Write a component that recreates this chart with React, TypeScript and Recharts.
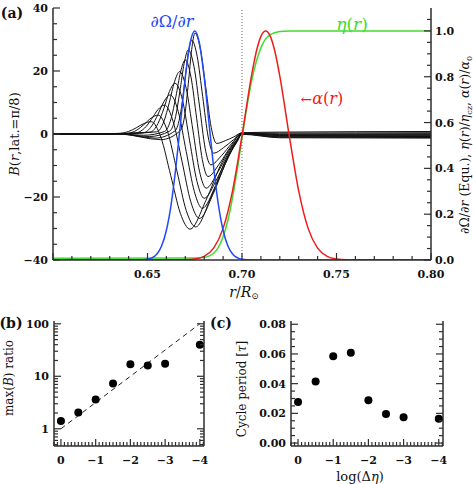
import React from "react"
import { LineChart, ComposedChart, Line, Scatter, XAxis, YAxis, ReferenceLine } from "recharts"

const FONT = "'DejaVu Serif', serif"
const INK = "#2e2e2e"
const BLUE = "#2448f2"
const GREEN = "#3fdc2e"
const RED = "#ee1c1c"

// (a) B(r, lat = pi/8), pairs of [r, B]
const bCurve0 = [[0.6, 0], [0.62, 0], [0.6344, 0.2], [0.64, 0.8], [0.644, 1.95], [0.648, 3.3], [0.652, 3.9], [0.6571, -1.1], [0.6623, -13.2], [0.6674, -25.2], [0.6725, -30.2], [0.6809, -21.1], [0.6893, -9.1], [0.6965, -2.4], [0.7, -0.1], [0.72, -1.2], [0.8, -1.3]]
const bCurve1 = [[0.6, 0], [0.62, 0], [0.6391, 0.2], [0.6444, 1.25], [0.6481, 3.0], [0.6519, 5.05], [0.6556, 6.0], [0.6606, 0.8], [0.6656, -11.8], [0.6705, -24.3], [0.6755, -29.5], [0.6832, -20.7], [0.6909, -8.9], [0.6975, -2.4], [0.7, 0.0], [0.72, -1.0], [0.8, -1.1]]
const bCurve2 = [[0.6, 0], [0.625, 0], [0.6436, 0.3], [0.6485, 1.9], [0.652, 4.6], [0.6555, 7.7], [0.659, 9.2], [0.6636, 3.9], [0.6683, -8.8], [0.6729, -21.5], [0.6775, -26.8], [0.6849, -18.8], [0.6922, -8.0], [0.6975, -2.2], [0.7, 0.1], [0.72, -0.9], [0.8, -0.9]]
const bCurve3 = [[0.6, 0], [0.625, 0], [0.6477, 0.4], [0.6523, 2.6], [0.6555, 6.2], [0.6588, 10.4], [0.662, 12.4], [0.6663, 7.1], [0.6705, -5.6], [0.6748, -18.3], [0.679, -23.6], [0.686, -16.5], [0.693, -7.1], [0.6975, -2.0], [0.7, 0.1], [0.72, -0.7], [0.8, -0.8]]
const bCurve4 = [[0.6, 0], [0.63, 0], [0.6514, 0.6], [0.6556, 3.4], [0.6586, 8.0], [0.6616, 13.5], [0.6646, 16.1], [0.6685, 10.8], [0.6723, -2.2], [0.6762, -15.1], [0.68, -20.4], [0.6867, -14.3], [0.6933, -6.1], [0.6975, -1.8], [0.7, 0.2], [0.72, -0.5], [0.8, -0.6]]
const bCurve5 = [[0.6, 0], [0.63, 0], [0.6549, 0.7], [0.6588, 4.2], [0.6615, 9.9], [0.6643, 16.6], [0.667, 19.8], [0.6705, 14.4], [0.674, 1.3], [0.6775, -11.8], [0.681, -17.2], [0.6873, -12.0], [0.6936, -5.2], [0.6975, -1.6], [0.7, 0.2], [0.72, -0.4], [0.8, -0.4]]
const bCurve6 = [[0.6, 0], [0.635, 0], [0.648, -0.4], [0.659, 0.8], [0.6625, 4.9], [0.665, 11.8], [0.6675, 19.7], [0.67, 23.5], [0.673, 18.1], [0.676, 5.0], [0.679, -8.1], [0.682, -13.5], [0.688, -9.5], [0.694, -4.0], [0.7, 0.2], [0.72, -0.2], [0.8, -0.2]]
const bCurve7 = [[0.6, 0], [0.635, 0], [0.651, -0.8], [0.6617, 0.9], [0.6649, 5.6], [0.6671, 13.4], [0.6694, 22.4], [0.6716, 26.7], [0.6746, 21.4], [0.6776, 8.5], [0.6805, -4.5], [0.6835, -9.8], [0.6891, -6.9], [0.6947, -2.9], [0.7, 0.3], [0.72, 0.0], [0.8, 0.1]]
const bCurve8 = [[0.6, 0], [0.635, 0], [0.654, -1.3], [0.6646, 1.0], [0.6674, 6.3], [0.6694, 14.9], [0.6714, 25.0], [0.6734, 29.8], [0.6763, 24.6], [0.6792, 11.9], [0.6821, -0.9], [0.685, -6.1], [0.6903, -4.3], [0.6955, -1.8], [0.7, 0.3], [0.72, 0.3], [0.8, 0.4]]
const bCurve9 = [[0.6, 0], [0.635, 0], [0.657, -1.8], [0.6674, 1.1], [0.6699, 6.7], [0.6716, 16.0], [0.6734, 26.9], [0.6751, 32.0], [0.678, 26.9], [0.6809, 14.5], [0.6837, 2.1], [0.6866, -3.0], [0.6912, -2.1], [0.6957, -0.9], [0.7, 0.4], [0.72, 0.6], [0.8, 0.8]]
const bCurves = [bCurve0, bCurve1, bCurve2, bCurve3, bCurve4, bCurve5, bCurve6, bCurve7, bCurve8, bCurve9]

// (a) profiles on the right axis
const shearR = [0.6, 0.645, 0.65, 0.655, 0.6575, 0.66, 0.6625, 0.665, 0.6675, 0.67, 0.6725, 0.675, 0.6775, 0.68, 0.6825, 0.685, 0.6875, 0.69, 0.6925, 0.695, 0.7, 0.705, 0.8]
const shearV = [0, 0.0003, 0.0035, 0.0265, 0.062, 0.13, 0.242, 0.404, 0.6, 0.797, 0.945, 1.0, 0.945, 0.797, 0.6, 0.404, 0.242, 0.13, 0.062, 0.0265, 0.0035, 0.0003, 0]
const etaR = [0.6, 0.675, 0.68, 0.6825, 0.685, 0.6875, 0.69, 0.6925, 0.695, 0.6975, 0.7, 0.7025, 0.705, 0.7075, 0.71, 0.7125, 0.715, 0.72, 0.725, 0.8]
const etaV = [0.008, 0.0083, 0.0116, 0.0171, 0.0297, 0.0555, 0.1015, 0.1725, 0.272, 0.396, 0.531, 0.664, 0.778, 0.864, 0.926, 0.965, 0.984, 0.997, 1.0, 1.0]
const alphaR = [0.6, 0.67, 0.675, 0.68, 0.685, 0.69, 0.695, 0.7, 0.705, 0.7075, 0.71, 0.7125, 0.715, 0.7175, 0.72, 0.725, 0.73, 0.735, 0.74, 0.745, 0.75, 0.755, 0.8]
const alphaV = [0, 0.0009, 0.0041, 0.0161, 0.0521, 0.138, 0.302, 0.543, 0.803, 0.907, 0.976, 1.0, 0.976, 0.907, 0.803, 0.543, 0.302, 0.138, 0.0521, 0.0161, 0.0041, 0.0009, 0]

// (b), (c)
const logDeta = [0, -0.5, -1, -1.5, -2, -2.5, -3, -4]
const maxBRatio = [1.4, 2.05, 3.6, 7.3, 17, 16, 17.3, 40]
const cyclePeriod = [0.0276, 0.0415, 0.0584, 0.0608, 0.0288, 0.0195, 0.0173, 0.0163]
const fitX = [0, -4]
const fitY = [1, 100]

// tick labels
const rMajor = [0.6, 0.65, 0.7, 0.75, 0.8]
const bMajor = [-40, -20, 0, 20, 40]
const rightMajor = [0, 0.2, 0.4, 0.6, 0.8, 1.0]
const etaMajor = [0, -1, -2, -3, -4]
const ratioMajor = [1, 10, 100]
const ratioMinor = [0.5, 0.6, 0.7, 0.8, 0.9, 1, 2, 3, 4, 5, 6, 7, 8, 9, 10, 20, 30, 40, 50, 60, 70, 80, 90, 100]
const periodMajor = [0, 0.02, 0.04, 0.06, 0.08]

const steps = (a: number, b: number, s: number) => {
  const out: number[] = []
  for (let v = a; v <= b + s / 1000; v += s) out.push(+v.toFixed(4))
  return out
}
const zip = (xs: number[], ys: number[]) => xs.map((x, i) => ({ r: x, v: ys[i] }))
const pairs = (arr: number[][]) => arr.map(([r, v]) => ({ r, v }))
const minus = (s: string) => s.replace("-", "\u2212")

type Side = "left" | "right" | "top" | "bottom"
function tickFn(side: Side, majors: number[], fmt?: (v: number) => string, off = 18) {
  return (p: any) => {
    const v = Number(p.payload.value)
    const big = majors.some((m) => Math.abs(m - v) < 1e-6)
    const len = big ? 7 : 4
    const x = p.x
    const y = p.y
    const dx = side === "left" ? len : side === "right" ? -len : 0
    const dy = side === "bottom" ? -len : side === "top" ? len : 0
    const txt = big && fmt ? fmt(v) : ""
    const st = { fontFamily: FONT, fontSize: 11, fontWeight: 700, fill: "#111" }
    let label = null
    if (txt && side === "left")
      label = <text x={x - 5} y={y} dy="0.36em" textAnchor="end" {...st}>{txt}</text>
    if (txt && side === "right")
      label = <text x={x + 4} y={y} dy="0.36em" textAnchor="start" {...st}>{txt}</text>
    if (txt && side === "bottom")
      label = <text x={x} y={y + off} textAnchor="middle" {...st}>{txt}</text>
    return (
      <g>
        <line x1={x} y1={y} x2={x + dx} y2={y + dy} stroke={INK} strokeWidth={1.2} />
        {label}
      </g>
    )
  }
}

const axisProps = {
  allowDataOverflow: true,
  interval: 0 as const,
  tickSize: 0,
  tickMargin: 0,
  tickLine: false,
  axisLine: { stroke: INK, strokeWidth: 1.5 },
}

function Txt({ x, y, rot, size = 12, color = "#111", bold, children }: any) {
  return (
    <div
      style={{
        position: "absolute",
        left: x,
        top: y,
        transform: `translate(-50%, -50%)${rot ? " rotate(-90deg)" : ""}`,
        whiteSpace: "nowrap",
        fontFamily: FONT,
        fontSize: size,
        fontWeight: bold ? 700 : 400,
        color,
        lineHeight: 1,
      }}
    >
      {children}
    </div>
  )
}

const Sub = ({ children }: any) => <span style={{ fontSize: "0.65em", verticalAlign: "-0.3em" }}>{children}</span>

export default function App() {
  const rTicks = steps(0.6, 0.8, 0.01)
  const xTicksBC = steps(-4.1, 0.2, 0.1)
  const dot = (p: any) => <circle cx={p.cx} cy={p.cy} r={4} fill="#000" />
  const ptsB = logDeta.map((x, i) => ({ x, y: maxBRatio[i] }))
  const ptsC = logDeta.map((x, i) => ({ x, y: cyclePeriod[i] }))
  const fit = fitX.map((x, i) => ({ x, y: fitY[i] }))

  return (
    <div style={{ position: "absolute", left: 0, top: 0, width: 473, height: 484, background: "#fff" }}>
      <div style={{ position: "absolute", left: 0, top: 0 }}>
        <LineChart width={473} height={300} margin={{ top: 8, right: 0, bottom: 0, left: 0 }}>
          <XAxis xAxisId="b" type="number" dataKey="r" domain={[0.6, 0.8]} ticks={rTicks} height={40}
            tick={tickFn("bottom", rMajor, (v) => (v < 0.61 ? "" : v.toFixed(2)), 18)} {...axisProps} />
          <XAxis xAxisId="t" orientation="top" type="number" dataKey="r" domain={[0.6, 0.8]} ticks={rTicks} height={0}
            tick={tickFn("top", rMajor)} {...axisProps} />
          <YAxis yAxisId="L" type="number" domain={[-40, 40]} ticks={steps(-40, 40, 5)} width={53}
            tick={tickFn("left", bMajor, (v) => minus(String(v)))} {...axisProps} />
          <YAxis yAxisId="R" orientation="right" type="number" domain={[0, 1.1]} ticks={steps(0, 1.05, 0.05)} width={42}
            tick={tickFn("right", rightMajor, (v) => v.toFixed(1))} {...axisProps} />
          <ReferenceLine xAxisId="b" yAxisId="L" x={0.7} stroke="#666" strokeDasharray="1 2" />
          {bCurves.map((c, i) => (
            <Line key={i} xAxisId="b" yAxisId="L" data={pairs(c)} dataKey="v" type="monotone" stroke="#111"
              strokeWidth={1} dot={false} activeDot={false} isAnimationActive={false} />
          ))}
          <Line xAxisId="b" yAxisId="R" data={zip(etaR, etaV)} dataKey="v" type="monotone" stroke={GREEN}
            strokeWidth={1.5} dot={false} activeDot={false} isAnimationActive={false} />
          <Line xAxisId="b" yAxisId="R" data={zip(alphaR, alphaV)} dataKey="v" type="monotone" stroke={RED}
            strokeWidth={1.5} dot={false} activeDot={false} isAnimationActive={false} />
          <Line xAxisId="b" yAxisId="R" data={zip(shearR, shearV)} dataKey="v" type="monotone" stroke={BLUE}
            strokeWidth={1.5} dot={false} activeDot={false} isAnimationActive={false} />
        </LineChart>
      </div>

      <div style={{ position: "absolute", left: 0, top: 300 }}>
        <ComposedChart width={230} height={184} margin={{ top: 21, right: 0, bottom: 0, left: 0 }}>
          <XAxis xAxisId="b" type="number" dataKey="x" domain={[-4.12, 0.2]} reversed ticks={xTicksBC} height={38}
            tick={tickFn("bottom", etaMajor, (v) => minus(String(v)), 18)} {...axisProps} />
          <XAxis xAxisId="t" orientation="top" type="number" dataKey="x" domain={[-4.12, 0.2]} reversed ticks={xTicksBC}
            height={0} tick={tickFn("top", etaMajor)} {...axisProps} />
          <YAxis yAxisId="L" type="number" dataKey="y" scale="log" domain={[0.47, 113]} ticks={ratioMinor} width={54}
            tick={tickFn("left", ratioMajor, (v) => String(v))} {...axisProps} />
          <YAxis yAxisId="R" orientation="right" type="number" dataKey="y" scale="log" domain={[0.47, 113]}
            ticks={ratioMinor} width={26} tick={tickFn("right", ratioMajor)} {...axisProps} />
          <Line xAxisId="b" yAxisId="L" data={fit} dataKey="y" type="linear" stroke="#222" strokeWidth={1}
            strokeDasharray="5 4" dot={false} activeDot={false} isAnimationActive={false} />
          <Scatter xAxisId="b" yAxisId="L" data={ptsB} dataKey="y" shape={dot} isAnimationActive={false} />
        </ComposedChart>
      </div>

      <div style={{ position: "absolute", left: 230, top: 300 }}>
        <ComposedChart width={243} height={184} margin={{ top: 21, right: 0, bottom: 0, left: 0 }}>
          <XAxis xAxisId="b" type="number" dataKey="x" domain={[-4.12, 0.2]} reversed ticks={xTicksBC} height={38}
            tick={tickFn("bottom", etaMajor, (v) => minus(String(v)), 18)} {...axisProps} />
          <XAxis xAxisId="t" orientation="top" type="number" dataKey="x" domain={[-4.12, 0.2]} reversed ticks={xTicksBC}
            height={0} tick={tickFn("top", etaMajor)} {...axisProps} />
          <YAxis yAxisId="L" type="number" dataKey="y" domain={[-0.002, 0.0822]} ticks={steps(0, 0.08, 0.005)} width={61}
            tick={tickFn("left", periodMajor, (v) => v.toFixed(2))} {...axisProps} />
          <YAxis yAxisId="R" orientation="right" type="number" dataKey="y" domain={[-0.002, 0.0822]}
            ticks={steps(0, 0.08, 0.005)} width={30} tick={tickFn("right", periodMajor)} {...axisProps} />
          <Scatter xAxisId="b" yAxisId="L" data={ptsC} dataKey="y" shape={dot} isAnimationActive={false} />
        </ComposedChart>
      </div>

      <Txt x={12} y={13} size={14} bold>(a)</Txt>
      <Txt x={11} y={323} size={14} bold>(b)</Txt>
      <Txt x={221} y={323} size={14} bold>(c)</Txt>

      <Txt x={14} y={134} rot size={13}>
        <i>B</i>(<i>r</i>,lat.=π/8)
      </Txt>
      <Txt x={466} y={145} rot size={12.5}>
        ∂Ω/∂<i>r</i> (Equ.), <i>η</i>(<i>r</i>)/<i>η</i><Sub>cz</Sub>, <i>α</i>(<i>r</i>)/<i>α</i><Sub>0</Sub>
      </Txt>
      <Txt x={244} y={293} size={14}>
        <i>r</i>/<i>R</i><Sub>⊙</Sub>
      </Txt>
      <Txt x={9} y={378} rot size={12}>
        max(<i>B</i>) ratio
      </Txt>
      <Txt x={242} y={389} rot size={12}>
        Cycle period [<i>τ</i>]
      </Txt>
      <Txt x={360} y={476} size={13}>
        log(Δ<i>η</i>)
      </Txt>

      <Txt x={172} y={22} size={16} color={BLUE}>
        ∂Ω/∂<i>r</i>
      </Txt>
      <Txt x={352} y={24} size={17} color={GREEN}>
        <i>η</i>(<i>r</i>)
      </Txt>
      <Txt x={322} y={99} size={16} color={RED}>
        <span style={{ fontSize: "0.85em" }}>←</span><i>α</i>(<i>r</i>)
      </Txt>
    </div>
  )
}
